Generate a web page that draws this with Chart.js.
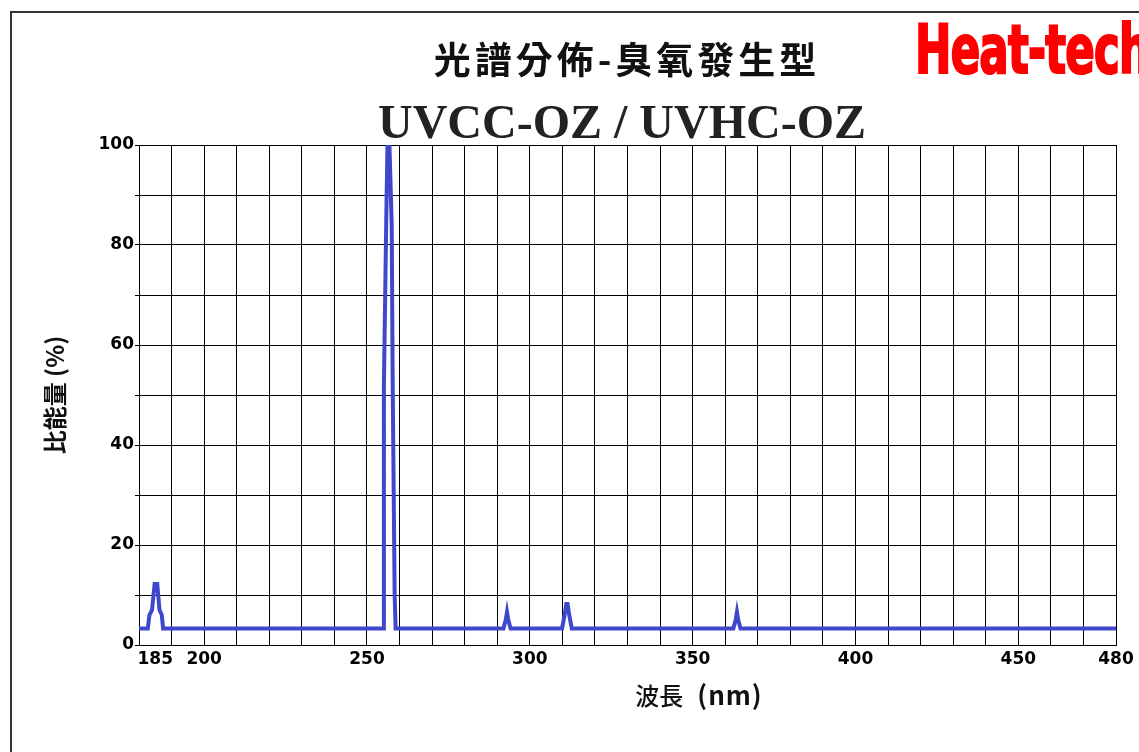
<!DOCTYPE html>
<html>
<head>
<meta charset="utf-8">
<script src="https://cdn.jsdelivr.net/npm/chart.js@4"></script>
<style>
  body { margin: 0; background: #fff; }
  #wrap { position: relative; width: 1139px; height: 752px; overflow: hidden; background: #fff; }
  #frame { position: absolute; left: 10px; top: 11px; width: 1200px; height: 800px;
           border-left: 2px solid #333; border-top: 2px solid #333; }
  canvas { position: absolute; left: 0; top: 0; }
  .txt { position: absolute; white-space: nowrap; color: #111; }
  #title { left: 627px; top: 58px; transform: translate(-50%, -50%);
           font: bold 37px "Noto Sans CJK TC", "Noto Sans CJK JP", sans-serif; letter-spacing: 4px; }
  #sub { left: 622px; top: 121px; transform: translate(-50%, -50%);
         font: bold 48px "Liberation Serif", serif; color: #222; }
  #brand { left: 915px; top: 49px; transform: translateY(-50%) scale(0.78, 1.1); transform-origin: left center;
           font: bold 62px "Liberation Sans Narrow", "DejaVu Sans Condensed", sans-serif; color: #f00;
           -webkit-text-stroke: 2px #f00; letter-spacing: -1px; }
  #xtitle { left: 699px; top: 693px; transform: translate(-50%, -50%);
            font: 500 24px "Noto Sans CJK JP", sans-serif; }
  #xtitle span { margin-left: 14px; font-size: 26px; font-weight: bold; letter-spacing: 1px; }
</style>
</head>
<body>
<div id="wrap">
  <div id="frame"></div>
  <canvas id="spectrum" width="1139" height="752"></canvas>
  <div class="txt" id="title">光譜分佈-臭氧發生型</div>
  <div class="txt" id="sub">UVCC-OZ / UVHC-OZ</div>
  <div class="txt" id="brand">Heat-tech</div>
  <div class="txt" id="xtitle">波長<span>(nm)</span></div>
</div>
<script>
// wavelength (nm) and relative energy (%)
const wavelength = [180, 182.7, 183.2, 184.0, 184.8, 185.6, 186.3, 187.0, 187.4,
                    255.0, 255.2, 255.9, 256.3, 256.9, 257.6, 257.9, 258.5, 258.8,
                    291.9, 292.6, 293.0, 293.4, 294.1,
                    309.9, 310.7, 311.2, 311.6, 312.1, 312.9,
                    362.5, 363.2, 363.6, 364.0, 364.7, 480];
const energy = [3.3, 3.3, 6, 7, 12.2, 12.2, 7, 6, 3.3,
                3.3, 52, 84, 100, 100, 84, 52, 10, 3.3,
                3.3, 5, 6.6, 5, 3.3,
                3.3, 6, 8.2, 8.2, 6, 3.3,
                3.3, 5, 6.6, 5, 3.3, 3.3];

const xGrid = [180, 185, 190, 200, 210, 220, 230, 240, 250, 260, 270, 280, 290, 300, 310,
               320, 330, 340, 350, 360, 370, 380, 390, 400, 410, 420, 430, 440, 450,
               460, 470, 480];
const xLabels = [185, 200, 250, 300, 350, 400, 450, 480];
const yLabels = [0, 20, 40, 60, 80, 100];

const tickFont = { family: '"DejaVu Sans", sans-serif', size: 17, weight: 'bold' };

new Chart(document.getElementById('spectrum'), {
    type: 'line',
    data: {
        datasets: [{
            data: wavelength.map((w, i) => ({ x: w, y: energy[i] })),
            borderColor: '#3f48cc',
            borderWidth: 4,
            pointRadius: 0,
            tension: 0,
            fill: false
        }]
    },
    options: {
        responsive: false,
        animation: false,
        layout: { padding: { left: 0, right: 23, top: 145, bottom: 67 } },
        plugins: { legend: { display: false }, tooltip: { enabled: false } },
        scales: {
            x: {
                type: 'linear',
                min: 180,
                max: 480,
                afterBuildTicks: scale => { scale.ticks = xGrid.map(v => ({ value: v })); },
                afterFit: scale => { scale.height = 40; },
                grid: {
                    color: c => (c.tick && c.tick.value === 185) ? 'rgba(0,0,0,0)' : '#000',
                    lineWidth: 1,
                    drawTicks: false
                },
                border: { color: '#000', width: 1 },
                ticks: {
                    autoSkip: false,
                    maxRotation: 0,
                    padding: 4,
                    color: '#000',
                    font: tickFont,
                    callback: v => xLabels.includes(v) ? String(v) : ''
                }
            },
            y: {
                min: 0,
                max: 100,
                afterFit: scale => { scale.width = 139; },
                grid: { color: '#000', lineWidth: 1, tickLength: 4 },
                border: { color: '#000', width: 1 },
                ticks: {
                    stepSize: 10,
                    padding: 1,
                    color: '#000',
                    font: tickFont,
                    callback: v => yLabels.includes(v) ? String(v) : ''
                },
                title: {
                    display: true,
                    text: '比能量 (%)',
                    color: '#111',
                    font: { family: '"Noto Sans CJK JP", sans-serif', size: 24, weight: 'bold' },
                    padding: { top: 40, bottom: 0 }
                }
            }
        }
    }
});
</script>
</body>
</html>
